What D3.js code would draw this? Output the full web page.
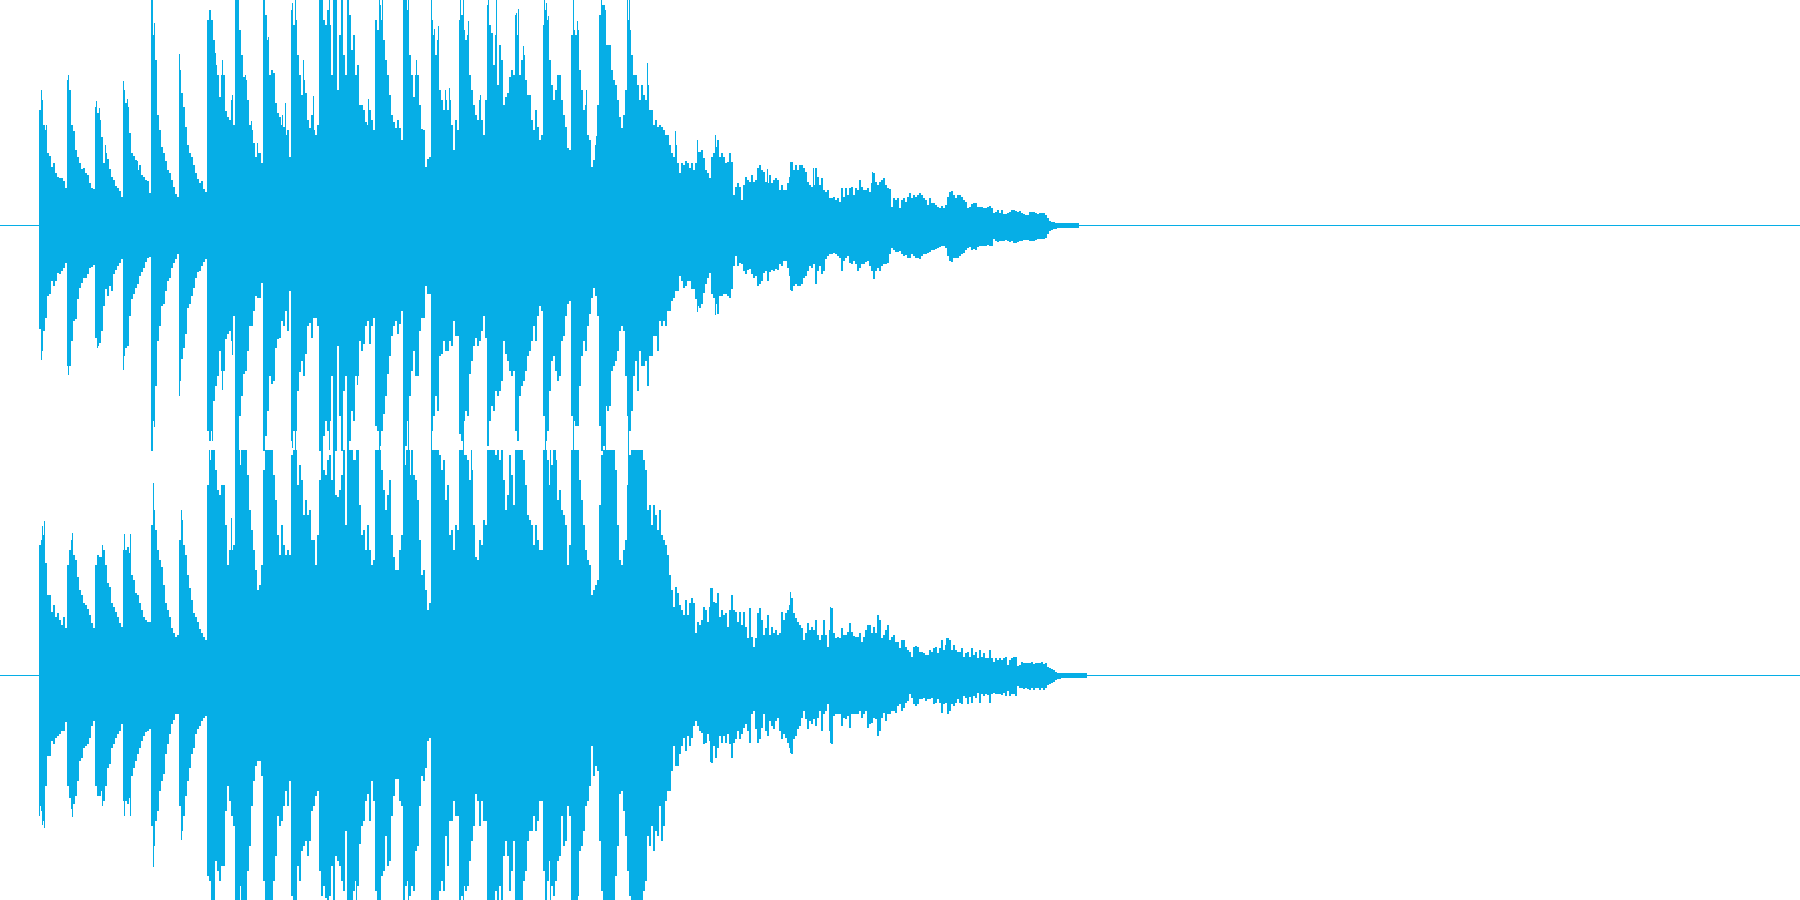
<!DOCTYPE html>
<html><head><meta charset="utf-8">
<script src="https://cdnjs.cloudflare.com/ajax/libs/d3/7.9.0/d3.min.js"></script>
<style>html,body{margin:0;padding:0;background:#fff;overflow:hidden}svg{display:block}</style>
</head><body>
<svg id="chart" width="1800" height="900"></svg>
<script>
// Peak amplitudes per time bin (full scale = 225 per channel)
const ch1Up = [
115,125,100,95,72,69,58,62,52,48,47,47,44,37,
145,135,100,94,75,68,62,56,57,52,50,42,37,36,
118,112,105,88,62,72,66,56,48,45,39,37,34,28,
135,122,118,92,72,69,65,55,60,50,48,45,44,32,
225,190,165,110,95,78,72,64,55,52,45,38,31,28,
155,132,118,98,80,72,68,60,52,46,42,44,36,33,
205,215,205,185,160,150,128,150,150,114,108,105,125,100,
225,225,195,170,148,145,125,100,95,82,68,72,72,62,
225,210,185,150,155,152,122,112,108,100,98,90,95,68,
215,200,205,170,150,130,145,132,105,97,110,95,90,100,
225,225,205,200,215,200,150,225,225,135,190,225,170,150,
225,210,175,190,150,160,120,120,115,103,100,115,105,95,
205,195,220,205,185,165,150,130,110,103,97,105,97,85,
225,225,215,170,150,128,150,150,120,96,95,58,66,68,
205,190,170,185,135,125,115,125,115,125,100,75,105,95,
205,210,195,185,190,150,135,120,110,105,125,105,90,125,
220,200,192,160,190,140,180,165,120,128,132,148,155,150,
210,190,150,165,170,145,130,130,105,95,115,98,85,90,
200,215,205,165,140,125,135,150,150,125,110,98,77,75,
190,195,190,195,155,135,115,120,90,85,58,65,80,120,
210,220,220,180,180,180,155,145,140,125,108,97,110,135,
205,195,170,150,150,140,125,140,130,125,140,115,115,100,105,98,100,98,95,90,90,80,72,68,80,62,52,62,60,64,62,57,
62,55,62,73,73,75,67,55,52,47,68,72,78,85,68,72,68,62,63,72,63,
30,38,42,38,25,40,48,45,43,50,43,45,57,60,55,53,43,42,50,42,45,47,45,35,40,35,35,42,48,63,55,60,55,60,60,57,53,43,40,38,40,57,48,40,47,35,33,35,27,27,28,25,27,23,37,28,37,30,37,38,30,37,35,45,38,35,35,37,33,42,52,43,40,43,45,47,40,37,36,18,27,25,27,17,25,27,23,28,32,27,30,28,30,32,30,27,25,20,27,22,22,20,18,17,19,17,20,28,33,34,30,27,30,30,28,25,23,17,18,21,22,22,18,18,18,17,17,18,19,17,12,13,15,12,15,11,11,12,13,15,15,14,13,14,12,11,10,10,13,13,13,12,11,12,12,12,10,7,4,3,3,2,2,2,2,2,2,2,2,2,2,2,2];
const ch1Down = [
103,125,105,92,70,68,55,60,55,47,48,45,42,37,
140,140,115,95,93,73,62,57,52,52,48,42,41,39,
112,120,117,105,80,63,70,60,65,48,44,40,37,33,
130,122,120,90,73,68,62,58,50,46,42,36,32,31,
225,195,160,115,100,80,78,65,55,52,42,37,33,28,
155,133,122,108,82,78,70,62,52,46,45,40,36,33,
205,215,205,175,160,150,125,145,145,113,108,105,115,90,
225,225,190,170,148,145,125,100,100,85,70,72,72,57,
225,210,185,150,158,155,122,113,112,95,100,85,105,65,
215,205,205,165,146,135,150,128,100,97,112,92,92,100,
225,225,210,195,205,195,150,225,225,120,190,225,165,150,
225,215,185,195,150,150,115,125,118,100,95,118,100,92,
200,205,220,205,188,170,148,130,110,100,95,108,98,85,
225,220,195,170,145,125,150,150,105,92,92,60,68,68,
205,190,170,185,130,128,115,125,125,115,120,95,110,110,
208,215,195,185,190,148,135,120,112,120,115,105,90,112,
220,195,180,185,165,170,165,155,115,128,135,145,150,145,
205,215,170,160,155,145,130,125,115,100,115,90,80,85,
190,215,205,165,135,130,145,155,150,115,110,90,78,75,
190,195,200,200,160,130,115,125,100,88,72,62,70,90,
200,225,220,180,185,180,145,140,135,125,105,100,105,150,
190,205,185,150,135,165,125,140,140,135,160,130,130,110,110,125,95,100,95,100,85,85,75,72,65,65,50,55,62,60,55,55,
63,63,73,80,82,78,67,58,52,47,68,72,78,88,70,70,68,68,70,72,63,
40,30,40,37,38,45,48,44,43,48,52,50,60,58,55,47,45,55,46,44,45,43,44,38,40,35,35,42,50,65,60,58,60,60,58,52,50,45,40,42,38,58,45,40,48,45,33,30,28,28,27,28,30,32,45,35,32,30,37,38,35,38,45,42,38,38,36,35,40,45,53,45,42,45,40,38,38,37,28,22,24,26,26,25,28,30,29,32,32,28,30,32,32,33,30,28,28,27,26,24,24,23,22,21,20,20,22,30,35,36,32,32,32,30,28,27,24,22,21,24,23,24,21,20,20,20,20,19,20,20,13,15,16,15,15,15,14,15,16,15,17,17,16,15,15,14,14,14,15,15,15,14,13,13,13,13,12,8,5,4,3,3,2,2,2,2,2,2,2,2,2,2,2];
const ch2Up = [
130,135,140,112,80,80,63,70,58,62,55,50,58,47,
110,125,135,120,115,98,85,80,72,70,66,60,52,47,
110,120,118,118,125,110,92,88,72,68,63,58,52,48,
125,125,128,122,100,95,82,80,72,65,58,55,53,53,
150,165,145,125,115,108,90,72,65,58,47,42,38,40,
135,155,130,120,100,87,75,62,58,53,46,42,38,35,
190,215,225,225,205,185,180,190,190,150,110,125,125,130,
225,225,210,225,225,225,200,165,145,125,105,85,90,110,
205,225,225,225,225,200,175,140,120,150,130,120,125,120,
220,225,225,190,210,195,160,175,160,165,135,135,110,140,
195,225,205,200,215,220,195,225,180,178,185,200,225,150,
225,225,225,215,215,225,170,140,145,125,150,125,110,115,
225,225,225,205,185,165,180,195,140,118,105,105,125,140,
225,210,225,200,225,200,195,175,135,100,105,85,65,72,
225,225,225,225,220,205,215,175,190,140,145,125,150,145,
225,225,220,220,215,195,205,150,118,115,135,130,155,150,
225,225,225,225,220,225,215,225,195,165,180,220,200,170,
225,225,225,225,215,190,160,155,150,130,150,135,125,125,
225,225,215,190,210,225,215,175,185,165,160,150,110,130,
225,225,225,225,195,175,150,125,115,110,80,85,90,95,
170,220,225,225,225,225,225,225,205,150,115,110,125,135,
190,220,225,225,225,225,225,225,215,205,165,170,150,170,160,145,165,140,135,130,120,100,85,68,88,82,70,65,60,75,60,72,
77,72,42,53,50,55,68,65,53,68,87,73,72,82,58,65,60,62,48,65,80,65,63,53,63,50,63,48,37,67,38,28,37,62,67,55,40,47,60,40,48,42,45,40,42,63,55,62,65,70,77,62,57,53,50,47,35,42,52,45,48,45,55,40,35,40,55,40,28,45,67,42,37,38,37,47,40,40,43,52,43,39,38,38,42,33,38,45,50,50,42,48,42,60,55,37,40,45,50,35,38,40,33,33,27,35,35,28,25,23,18,28,29,28,23,23,22,20,20,25,23,27,28,22,27,35,25,30,37,35,25,30,25,23,23,27,18,22,23,18,27,20,23,17,25,18,22,17,17,25,17,13,17,15,17,15,17,18,10,15,17,18,18,9,10,13,12,12,12,12,13,11,12,12,12,13,11,12,8,7,6,5,3,2,2,2,2,2,2,2,2,2,2,2,2,2,2,2];
const ch2Down = [
130,135,145,110,80,80,65,68,62,60,58,55,55,46,
110,122,133,128,120,105,85,82,72,70,68,62,50,45,
110,120,120,115,125,110,92,88,72,68,62,58,55,48,
125,125,128,122,100,92,85,78,72,65,60,56,55,53,
150,170,145,135,115,105,98,78,68,58,48,44,38,38,
130,155,140,120,105,92,78,72,58,53,50,45,42,40,
200,205,225,225,185,195,205,190,190,135,110,125,140,150,
225,225,210,225,225,225,195,170,130,105,90,85,85,100,
205,225,225,225,225,205,180,140,150,145,130,115,130,105,
220,225,225,190,205,175,170,165,180,165,135,130,120,115,
195,220,210,222,225,220,190,225,180,185,190,205,215,155,
225,225,225,215,205,210,168,150,145,125,118,145,105,125,
215,225,225,200,195,160,190,185,140,120,103,103,125,130,
225,210,205,220,210,215,175,170,130,100,105,92,65,62,
225,225,225,225,215,205,215,160,190,145,145,125,140,140,
225,220,210,215,210,185,165,150,118,125,150,125,145,145,
225,225,225,225,215,225,210,225,180,165,180,215,195,165,
225,225,225,225,205,195,165,155,155,140,155,145,125,125,
195,225,205,185,210,220,205,185,180,140,170,165,130,140,
225,225,225,220,175,170,155,130,125,110,70,100,90,95,
165,215,225,225,225,225,225,225,200,170,118,115,135,160,
195,220,225,225,225,225,225,225,215,205,160,170,150,175,155,160,130,165,150,125,115,115,95,70,90,90,78,70,62,75,60,70,
62,50,45,50,55,57,68,67,58,65,87,70,82,72,60,67,60,67,58,68,82,67,63,55,63,58,52,48,55,67,38,35,53,67,63,52,38,55,60,45,50,53,45,42,55,63,58,62,67,72,78,63,60,53,50,42,35,43,53,45,48,43,50,42,35,55,38,35,28,55,68,40,38,38,38,50,42,43,40,52,38,38,38,38,35,42,38,35,52,48,47,42,43,60,55,42,37,45,38,38,35,35,37,30,28,35,32,27,25,18,22,28,30,28,23,23,22,25,23,23,22,28,27,23,27,37,28,27,38,35,28,30,27,23,27,28,20,22,28,21,27,20,22,17,27,18,20,18,19,27,18,17,18,18,18,19,17,20,15,20,18,18,20,10,12,12,13,12,13,14,12,14,12,12,14,12,14,12,9,8,7,6,4,3,3,2,2,2,2,2,2,2,2,2,2,2,2,2,2];

// Single-sample transients: [time column, amplitude]
const ch1UpPeaks = [[2,135],[7,100],[29,150],[57,124],[60,117],[66,80],[84,144],[88,126],[98,64],[115,202],[140,171],[145,112],[172,195],[176,172],[183,165],[193,130],[206,150],[212,104],[218,82],[229,188],[243,110],[246,122],[253,222],[256,225],[264,165],[274,129],[290,225],[318,160],[329,126],[340,225],[343,225],[369,225],[377,165],[392,225],[395,196],[399,199],[406,135],[410,137],[421,225],[424,225],[429,204],[441,130],[449,225],[457,225],[477,212],[479,216],[484,179],[505,225],[507,222],[509,209],[534,225],[538,204],[547,135],[557,89],[562,225],[566,215],[588,225],[590,225],[608,162],[636,94],[658,85],[676,90],[728,56],[751,63],[774,57],[833,53]];
const ch1DownPeaks = [[2,135],[29,150],[58,123],[84,145],[115,202],[140,171],[173,216],[183,165],[193,130],[229,186],[253,223],[256,225],[290,225],[318,160],[340,225],[369,225],[392,225],[424,225],[479,216],[506,225],[534,225],[562,225],[566,225],[589,225],[598,165],[658,87],[676,90],[751,65]];
const ch2UpPeaks = [[3,149],[5,154],[33,142],[63,130],[85,141],[91,141],[114,192],[142,165],[170,225],[192,157],[200,225],[304,225],[317,225],[340,225],[367,225],[370,225],[424,225],[432,225],[511,225],[516,225],[538,225],[589,225],[671,87],[751,83],[791,68],[838,60],[907,37]];
const ch2DownPeaks = [[0,141],[3,150],[5,153],[33,142],[63,131],[85,141],[91,141],[114,192],[142,165],[200,225],[317,225],[369,225],[424,225],[511,225],[538,225],[671,87],[751,78],[791,68]];

const COLUMNS_PER_BIN = 2, START = 39, WIDTH = 1800, PANEL = 450, FS = 225;
const COLOR = "#06aee6";
const svg = d3.select("#chart");

const x = d3.scaleLinear().domain([0, 1]).range([START, START + 1]);
const channels = [
  {up: ch1Up, down: ch1Down, upPeaks: ch1UpPeaks, downPeaks: ch1DownPeaks, top: 0},
  {up: ch2Up, down: ch2Down, upPeaks: ch2UpPeaks, downPeaks: ch2DownPeaks, top: PANEL}
];

channels.forEach(ch => {
  const y = d3.scaleLinear().domain([FS, -FS]).range([ch.top, ch.top + PANEL]);
  const g = svg.append("g").attr("shape-rendering", "crispEdges").attr("fill", COLOR);
  g.append("rect").attr("x", 0).attr("width", WIDTH).attr("y", y(0)).attr("height", 1);
  const n = Math.min(ch.up.length, ch.down.length);
  g.selectAll("rect.bar").data(d3.range(n)).join("rect").attr("class", "bar")
    .attr("x", i => x(i * COLUMNS_PER_BIN)).attr("width", x(COLUMNS_PER_BIN) - x(0))
    .attr("y", i => y(ch.up[i]))
    .attr("height", i => y(-ch.down[i]) - y(ch.up[i]) + 1);
  g.selectAll("rect.up").data(ch.upPeaks).join("rect").attr("class", "up")
    .attr("x", d => x(d[0])).attr("width", 1)
    .attr("y", d => y(d[1])).attr("height", d => y(0) - y(d[1]));
  g.selectAll("rect.down").data(ch.downPeaks).join("rect").attr("class", "down")
    .attr("x", d => x(d[0])).attr("width", 1)
    .attr("y", y(0)).attr("height", d => y(-d[1]) - y(0));
});
</script>
</body></html>
